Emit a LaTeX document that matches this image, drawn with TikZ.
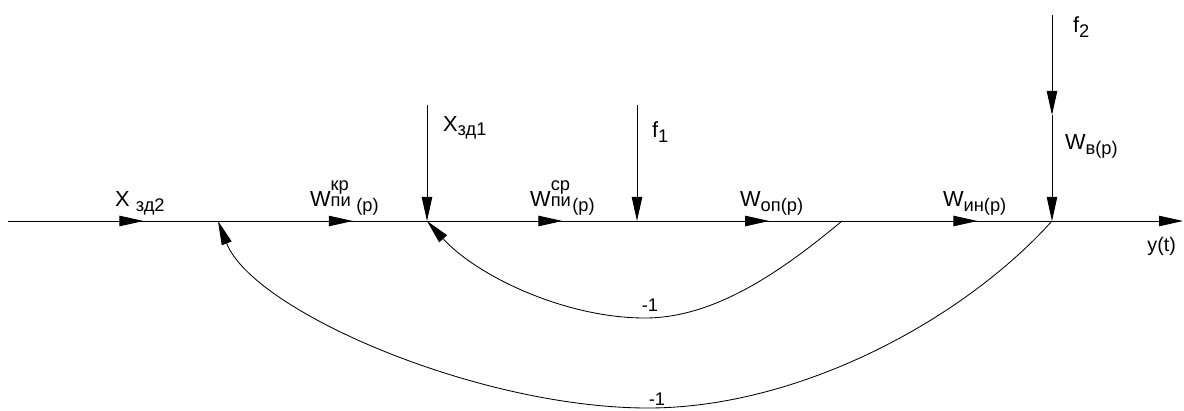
\documentclass[tikz,border=0pt]{standalone}
\usepackage{fontspec}
\setmainfont{Liberation Sans}
\usetikzlibrary{arrows.meta,decorations.markings}

% Lowered and stacked index text
\newcommand{\lsub}[1]{\raisebox{-3pt}{\fontsize{13}{13}\selectfont #1}}
\newcommand{\lsupsub}[2]{\rlap{\raisebox{11.5pt}{\fontsize{13}{13}\selectfont #1}}{\fontsize{13}{13}\selectfont #2}}

\begin{document}
\begin{tikzpicture}[x=0.025cm, y=0.025cm, line width=0.6pt,
    tip/.style={-{Triangle[length=0.6cm, width=0.26cm]}},
    midarrow/.style={postaction={decorate}, decoration={markings,
        mark=at position 0.645 with {\arrow{Triangle[length=0.6cm, width=0.26cm]}}}},
    hlabel/.style={anchor=base west, yshift=0.35cm, font=\fontsize{15.5}{17}\selectfont},
    vlabel/.style={anchor=base west, font=\fontsize{15.5}{17}\selectfont},
    fblabel/.style={font=\fontsize{13}{15}\selectfont}]

    % Fix picture size
    \useasboundingbox (0,0) rectangle (1184,410);

    % Define junctions on the main path
    \coordinate (in2) at (8,189);
    \coordinate (n1) at (218,189);
    \coordinate (n2) at (427,189);
    \coordinate (n3) at (637,189);
    \coordinate (n4) at (842,189);
    \coordinate (n5) at (1052,189);
    \coordinate (yout) at (1183,189);

    % Define inputs from above
    \coordinate (in1) at (427,305);
    \coordinate (f1) at (637,305);
    \coordinate (f2) at (1052,395);
    \coordinate (fv) at (1052,295);

    % Define lowest points of the feedback loops
    \coordinate (b1) at (645,92);
    \coordinate (b2) at (648,2);

    % Draw main path
    \draw[midarrow] (in2) -- node[hlabel, pos=0.486] (lxzd2) {X \lsub{зд2}} (n1);
    \draw[midarrow] (n1) -- node[hlabel, pos=0.416] (lwkr) {W\lsupsub{кр}{пи}\hspace{4pt}\lsub{(p)}} (n2);
    \draw[midarrow] (n2) -- node[hlabel, pos=0.467] (lwsr) {W\lsupsub{ср}{пи}\hspace{1pt}\lsub{(p)}} (n3);
    \draw[midarrow] (n3) -- node[hlabel, pos=0.478] (lwop) {W\lsub{оп(p)}} (n4);
    \draw[midarrow] (n4) -- node[hlabel, pos=0.457] (lwin) {W\lsub{ин(p)}} (n5);
    \draw[tip] (n5) -- node[pos=1, anchor=base east, yshift=-0.75cm, xshift=-0.05cm,
        font=\fontsize{14}{16}\selectfont] (ly) {y(t)} (yout);

    % Draw inputs
    \draw[tip] (in1) -- node[vlabel, pos=0.23, xshift=0.275cm] (lxzd1) {X\lsub{зд1}} (n2);
    \draw[tip] (f1) -- node[vlabel, pos=0.284, xshift=0.25cm] (lf1) {f\lsub{1}} (n3);
    \draw[tip] (f2) -- node[vlabel, pos=0.18, xshift=0.4cm] (lf2) {f\lsub{2}} (fv);
    \draw[tip] (fv) -- node[vlabel, pos=0.33, xshift=0.2cm] (lwv) {W\lsub{в(p)}} (n5);

    % Draw feedback loops
    \draw[tip] (n4) .. controls +(-60,-50) and +(70,0) .. (b1)
        .. controls +(-80,0) and +(50,-55) .. (n2);
    \draw[tip] (n5) .. controls +(-90,-100) and +(150,0) .. (b2)
        .. controls +(-170,0) and +(35,-90) .. (n1);
    \node[fblabel] (lfb1) at (650,105) {-1};
    \node[fblabel] (lfb2) at (657,11) {-1};

\end{tikzpicture}
\end{document}
